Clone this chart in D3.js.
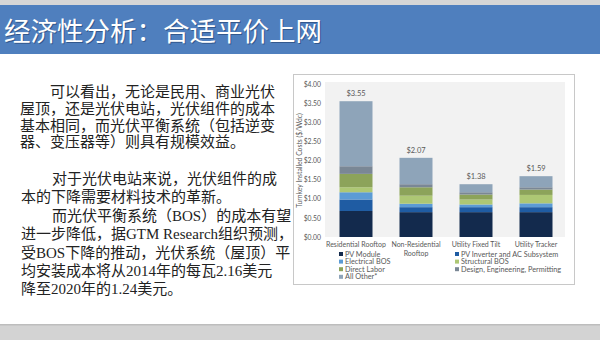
<!DOCTYPE html>
<html>
<head>
<meta charset="utf-8">
<script src="https://cdn.jsdelivr.net/npm/d3@7"></script>
<style>
  body { margin: 0; background: #fff; }
  svg { display: block; }
  .body-text { font-family: "Liberation Serif", "Noto Sans CJK SC", serif; font-size: 15px; fill: #222; }
  .chart-text { font-family: Lato, "Liberation Sans", sans-serif; fill: #595959; }
</style>
</head>
<body>
<svg id="slide" width="600" height="340"></svg>
<script>
// ---- data ----
const categories = ['Residential Rooftop', 'Non-Residential Rooftop', 'Utility Fixed Tilt', 'Utility Tracker'];
const categoryLines = [['Residential Rooftop'], ['Non-Residential', 'Rooftop'], ['Utility Fixed Tilt'], ['Utility Tracker']];
const seriesNames = ['PV Module', 'PV Inverter and AC Subsystem', 'Electrical BOS', 'Structural BOS',
  'Direct Labor', 'Design, Engineering, Permitting', 'All Other*'];
const pvModule    = [0.68, 0.65, 0.65, 0.65];
const pvInverter  = [0.30, 0.13, 0.13, 0.13];
const electrical  = [0.19, 0.09, 0.07, 0.10];
const structural  = [0.13, 0.21, 0.13, 0.22];
const directLabor = [0.35, 0.22, 0.13, 0.14];
const design      = [0.20, 0.08, 0.06, 0.06];
const allOther    = [1.70, 0.69, 0.21, 0.29];
const totals      = [3.55, 2.07, 1.38, 1.59];
const yTicks      = [0, 0.5, 1, 1.5, 2, 2.5, 3, 3.5, 4];
const colors = ['#132a4d', '#1f5ca3', '#5b9bd5', '#adc774', '#8ca35a', '#7a8795', '#8ea4b9'];

const title = '经济性分析：合适平价上网';
const paragraph1 = ['可以看出，无论是民用、商业光伏', '屋顶，还是光伏电站，光伏组件的成本',
  '基本相同，而光伏平衡系统（包括逆变', '器、变压器等）则具有规模效益。'];
const paragraph2 = ['对于光伏电站来说，光伏组件的成', '本的下降需要材料技术的革新。',
  '而光伏平衡系统（BOS）的成本有望', '进一步降低，据GTM Research组织预测，',
  '受BOS下降的推动，光伏系统（屋顶）平', '均安装成本将从2014年的每瓦2.16美元', '降至2020年的1.24美元。'];
const indented2 = [0, 2];

const svg = d3.select('#slide');

// ---- slide frame ----
svg.append('rect').attr('x', 0).attr('y', 0).attr('width', 600).attr('height', 6).attr('fill', '#d6d6d6');
svg.append('rect').attr('x', 0).attr('y', 5).attr('width', 600).attr('height', 49).attr('fill', '#4f7fbe');
svg.append('text')
  .attr('x', 4).attr('y', 41)
  .attr('fill', '#1f3f6e').attr('opacity', 0.6)
  .style('font-family', '"Noto Sans CJK SC", sans-serif').style('font-size', '26.5px')
  .attr('transform', 'translate(1,1)')
  .text(title);
svg.append('text')
  .attr('x', 4).attr('y', 41)
  .attr('fill', '#ffffff')
  .style('font-family', '"Noto Sans CJK SC", sans-serif').style('font-size', '26.5px')
  .text(title);
svg.append('rect').attr('x', 0).attr('y', 325).attr('width', 600).attr('height', 15).attr('fill', '#d3d3d3');
svg.append('rect').attr('x', 0).attr('y', 324).attr('width', 600).attr('height', 1.5).attr('fill', '#bdbdbd');

// ---- left text ----
const txt = svg.append('g').attr('class', 'body-text');
paragraph1.forEach((line, i) => {
  txt.append('text').attr('x', i === 0 ? 50 : 20).attr('y', 97 + i * 16.8).text(line);
});
paragraph2.forEach((line, i) => {
  txt.append('text').attr('x', indented2.includes(i) ? 52 : 21).attr('y', 184 + i * 18.4).text(line);
});

// ---- chart ----
svg.append('rect').attr('x', 293.5).attr('y', 74.5).attr('width', 281).attr('height', 210)
  .attr('fill', '#fff').attr('stroke', '#c8c8c8');

const plot = {left: 325, right: 565, top: 84, bottom: 237};
svg.append('rect').attr('x', plot.left).attr('y', plot.top - 2)
  .attr('width', plot.right - plot.left).attr('height', plot.bottom - plot.top + 2).attr('fill', '#f2f2f2');

const x = d3.scaleBand().domain(categories).range([plot.left + 1, plot.right + 1])
  .paddingInner(0.45).paddingOuter(0.225);
const y = d3.scaleLinear().domain([0, 4]).range([plot.bottom, plot.top]);

const rows = categories.map((c, i) => ({
  category: c,
  'PV Module': pvModule[i],
  'PV Inverter and AC Subsystem': pvInverter[i],
  'Electrical BOS': electrical[i],
  'Structural BOS': structural[i],
  'Direct Labor': directLabor[i],
  'Design, Engineering, Permitting': design[i],
  'All Other*': allOther[i]
}));
const stacked = d3.stack().keys(seriesNames)(rows);

svg.append('g').selectAll('g').data(stacked).join('g')
  .attr('fill', (d, i) => colors[i])
  .selectAll('rect').data(d => d).join('rect')
  .attr('x', d => x(d.data.category))
  .attr('y', d => y(d[1]))
  .attr('width', x.bandwidth())
  .attr('height', d => y(d[0]) - y(d[1]));

// total labels
svg.append('g').attr('class', 'chart-text').selectAll('text').data(categories).join('text')
  .attr('x', d => x(d) + x.bandwidth() / 2)
  .attr('y', (d, i) => y(totals[i]) - 5)
  .attr('text-anchor', 'middle')
  .style('font-size', '7.5px')
  .text((d, i) => '$' + totals[i].toFixed(2));

// y axis
const yAxis = svg.append('g').attr('class', 'chart-text')
  .attr('transform', `translate(${plot.left},0)`)
  .call(d3.axisLeft(y).tickValues(yTicks).tickSize(0).tickPadding(4).tickFormat(d => '$' + d.toFixed(2)));
yAxis.select('.domain').remove();
yAxis.selectAll('text').attr('fill', '#595959').style('font-size', '6.8px').style('font-family', 'Lato, sans-serif');

svg.append('text').attr('class', 'chart-text')
  .attr('transform', `translate(302,${(plot.top + plot.bottom) / 2}) rotate(-90)`)
  .attr('text-anchor', 'middle')
  .style('font-size', '6.8px')
  .text('Turnkey Installed Costs ($/Wdc)');

// x labels
const xl = svg.append('g').attr('class', 'chart-text').selectAll('text').data(categories).join('text')
  .attr('x', d => x(d) + x.bandwidth() / 2)
  .attr('y', plot.bottom + 10)
  .attr('text-anchor', 'middle')
  .style('font-size', '7px');
xl.each(function(d, i) {
  const t = d3.select(this);
  categoryLines[i].forEach((line, j) => {
    t.append('tspan').attr('x', x(d) + x.bandwidth() / 2).attr('dy', j === 0 ? 0 : 9).text(line);
  });
});

// legend
const legend = svg.append('g').attr('class', 'chart-text').selectAll('g').data(seriesNames).join('g')
  .attr('transform', (d, i) => `translate(${i % 2 === 0 ? 339 : 455},${254 + Math.floor(i / 2) * 7.6})`);
legend.append('rect').attr('x', 0).attr('y', -2).attr('width', 4).attr('height', 4)
  .attr('fill', (d, i) => colors[i]);
legend.append('text').attr('x', 6).attr('y', 2.5).style('font-size', '7.3px').text(d => d);
</script>
</body>
</html>
